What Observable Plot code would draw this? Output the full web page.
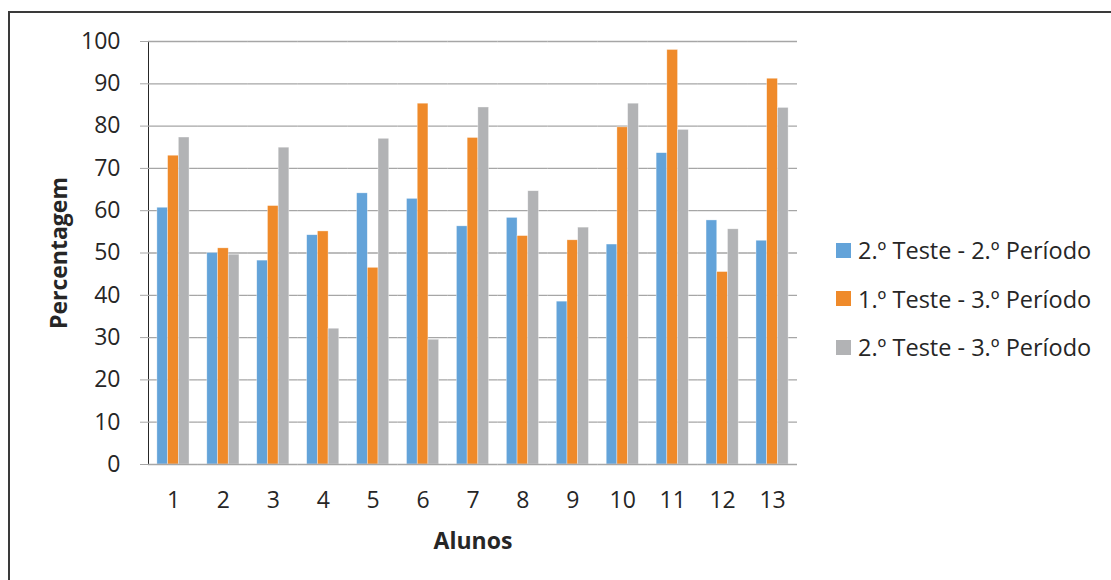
<!DOCTYPE html>
<html>
<head>
<meta charset="utf-8">
<script src="https://cdn.jsdelivr.net/npm/d3@7"></script>
<script src="https://cdn.jsdelivr.net/npm/@observablehq/plot@0.6"></script>
<style>
  html, body { margin: 0; padding: 0; background: #fff; }
  #wrap { position: relative; width: 1111px; height: 580px; overflow: hidden; font-family: "Open Sans", sans-serif; }
  #frame { position: absolute; left: 8px; top: 11px; width: 1300px; height: 800px; border: 2px solid #3a3a3a; box-sizing: border-box; }
  #chart { position: absolute; left: 0; top: 0; }
  #legend { position: absolute; left: 836px; top: 226px; font-size: 23.5px; color: #262626; }
  #legend .row { display: flex; align-items: center; height: 48.5px; white-space: nowrap; }
  #legend .sw { width: 15px; height: 15px; margin-right: 7px; flex: none; }
  svg g[aria-label^="y-axis"] path, svg g[aria-label^="y-axis"] line { stroke: #a6a6a6; }
  svg g[aria-label$="axis label"] text, svg g[aria-label$="axis label"] { font-weight: bold; }
</style>
</head>
<body>
<div id="wrap">
  <div id="frame"></div>
  <div id="chart"></div>
  <div id="legend"></div>
</div>
<script>
const alunos = ["1","2","3","4","5","6","7","8","9","10","11","12","13"];
const series = ["2.º Teste - 2.º Período", "1.º Teste - 3.º Período", "2.º Teste - 3.º Período"];
const teste2p2 = [60.7, 50.0, 48.2, 54.2, 64.1, 62.8, 56.3, 58.3, 38.5, 52.0, 73.6, 57.7, 52.9];
const teste1p3 = [73.0, 51.1, 61.1, 55.1, 46.5, 85.3, 77.2, 54.0, 53.0, 79.7, 98.0, 45.5, 91.2];
const teste2p3 = [77.3, 49.6, 74.9, 32.1, 77.0, 29.5, 84.4, 64.6, 56.0, 85.3, 79.1, 55.6, 84.3];
const yTicks = [0, 10, 20, 30, 40, 50, 60, 70, 80, 90, 100];
const colors = ["#63a3d9", "#ef8a2a", "#b2b3b5"];

const valuesBySeries = [teste2p2, teste1p3, teste2p3];
const data = [];
alunos.forEach((a, i) => {
  series.forEach((s, j) => data.push({aluno: a, serie: s, valor: valuesBySeries[j][i]}));
});

const chart = Plot.plot({
  width: 1111,
  height: 580,
  marginLeft: 148,
  marginRight: 314,
  marginTop: 41,
  marginBottom: 116,
  style: {fontFamily: "Open Sans, sans-serif", fontSize: "23px", color: "#262626", background: "transparent", overflow: "visible"},
  fx: {domain: alunos, padding: 0, round: false, axis: "bottom", tickSize: 0, tickPadding: 27, label: "Alunos", labelAnchor: "center", labelOffset: 84},
  x: {domain: series, axis: null, round: false, paddingInner: 0, paddingOuter: 0.83},
  y: {domain: [0, 100], ticks: yTicks, tickSize: 8, tickPadding: 20, line: true, label: "Percentagem", labelAnchor: "center", labelOffset: 98, labelArrow: "none"},
  color: {domain: series, range: colors},
  marks: [
    Plot.gridY(yTicks.filter(d => d > 0), {stroke: "#a6a6a6", strokeOpacity: 1, strokeWidth: 1.3}),
    Plot.barY(data, {fx: "aluno", x: "serie", y: "valor", fill: "serie", stroke: "#fff", strokeWidth: 0.6, strokeOpacity: 0.6}),
    Plot.ruleY([0], {stroke: "#a6a6a6", strokeWidth: 1.5})
  ]
});
document.getElementById("chart").appendChild(chart);

const legend = document.getElementById("legend");
series.forEach((s, j) => {
  const row = document.createElement("div");
  row.className = "row";
  const sw = document.createElement("span");
  sw.className = "sw";
  sw.style.background = colors[j];
  const t = document.createElement("span");
  t.textContent = s;
  row.appendChild(sw);
  row.appendChild(t);
  legend.appendChild(row);
});
</script>
</body>
</html>
